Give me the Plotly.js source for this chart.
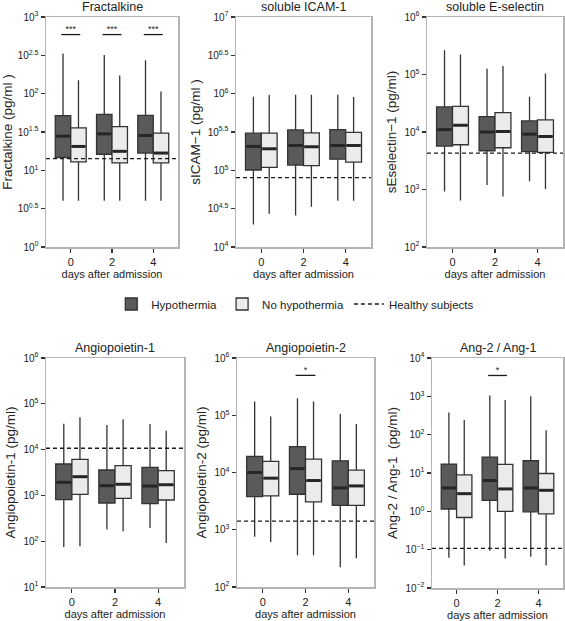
<!DOCTYPE html>
<html><head><meta charset="utf-8">
<script src="https://cdn.plot.ly/plotly-3.0.1.min.js"></script>
<style>html,body{margin:0;padding:0;background:#fff}</style>
</head><body><div id="chart" style="width:565px;height:621px"></div>
<script>
// ---------- data ----------
const days = ['0', '2', '4'];
const dayPos = [0, 1, 2];
const groupNames = ['Hypothermia', 'No hypothermia', 'Healthy subjects'];

// Fractalkine (pg/ml)
const fkHypoLow = [4.0, 4.0, 4.0];
const fkHypoQ1 = [14.7, 16.2, 16.8];
const fkHypoMed = [27.9, 29.9, 28.5];
const fkHypoQ3 = [51.8, 53.8, 52.2];
const fkHypoUp = [335, 319, 272];
const fkNoLow = [4.0, 4.0, 4.0];
const fkNoQ1 = [12.9, 12.5, 12.5];
const fkNoMed = [20.5, 17.7, 16.8];
const fkNoQ3 = [35.8, 37.2, 30.6];
const fkNoUp = [150, 172, 107];
const fkHealthy = 14.2;
const fkSig = ['***', '***', '***'];
const fkSigLevel = 590;

// soluble ICAM-1 (pg/ml)
const icHypoLow = [19700, 25800, 40000];
const icHypoQ1 = [101000, 117000, 140000];
const icHypoMed = [205000, 211000, 211000];
const icHypoQ3 = [305000, 337000, 340000];
const icHypoUp = [914000, 970000, 970000];
const icNoLow = [27100, 33400, 40000];
const icNoQ1 = [109000, 115000, 128000];
const icNoMed = [191000, 203000, 211000];
const icNoQ3 = [305000, 308000, 312000];
const icNoUp = [970000, 970000, 906000];
const icHealthy = 80300;
const icSig = ['', '', ''];
const icSigLevel = null;

// soluble E-selectin (pg/ml)
const esHypoLow = [920, 1200, 1390];
const esHypoQ1 = [5690, 4720, 4540];
const esHypoMed = [11000, 10000, 9170];
const esHypoQ3 = [27300, 18500, 15600];
const esHypoUp = [265000, 126000, 41200];
const esNoLow = [643, 753, 1020];
const esNoQ1 = [6000, 5320, 4420];
const esNoMed = [13100, 10200, 8360];
const esNoQ3 = [28000, 21800, 16200];
const esNoUp = [223000, 140000, 104000];
const esHealthy = 4300;
const esSig = ['', '', ''];
const esSigLevel = null;

// Angiopoietin-1 (pg/ml)
const a1HypoLow = [74.7, 179, 194];
const a1HypoQ1 = [807, 682, 661];
const a1HypoMed = [1930, 1630, 1600];
const a1HypoQ3 = [4850, 3590, 4100];
const a1HypoUp = [36800, 34400, 36200];
const a1NoLow = [77.2, 164, 91.4];
const a1NoQ1 = [1050, 862, 794];
const a1NoMed = [2560, 1750, 1710];
const a1NoQ3 = [6130, 4460, 3470];
const a1NoUp = [50700, 45800, 25900];
const a1Healthy = 10700;
const a1Sig = ['', '', ''];
const a1SigLevel = null;

// Angiopoietin-2 (pg/ml)
const a2HypoLow = [754, 360, 221];
const a2HypoQ1 = [3790, 4170, 2670];
const a2HypoMed = [10000, 11700, 5380];
const a2HypoQ3 = [19100, 28200, 16000];
const a2HypoUp = [174000, 199000, 105000];
const a2NoLow = [608, 360, 318];
const a2NoQ1 = [3900, 3060, 2670];
const a2NoMed = [7960, 7240, 5830];
const a2NoQ3 = [15600, 17100, 11000];
const a2NoUp = [94800, 174000, 70500];
const a2Healthy = 1420;
const a2Sig = ['', '*', ''];
const a2SigLevel = 497000;

// Ang-2 / Ang-1
const rtHypoLow = [0.0614, 0.094, 0.0653];
const rtHypoQ1 = [1.15, 1.93, 0.973];
const rtHypoMed = [4.07, 6.35, 4.07];
const rtHypoQ3 = [17.1, 26.1, 20.9];
const rtHypoUp = [381, 1045, 1003];
const rtNoLow = [0.0386, 0.059, 0.0386];
const rtNoQ1 = [0.69, 0.993, 0.863];
const rtNoMed = [2.89, 3.84, 3.54];
const rtNoQ3 = [8.95, 16.7, 9.7];
const rtNoUp = [240, 804, 131];
const rtHealthy = 0.108;
const rtSig = ['', '*', ''];
const rtSigLevel = 3500;

const panelTitles = ['Fractalkine', 'soluble ICAM-1', 'soluble E-selectin', 'Angiopoietin-1', 'Angiopoietin-2', 'Ang-2 / Ang-1'];
const yTitles = ['Fractalkine (pg/ml )', 'sICAM\u22121 (pg/ml )', 'sEselectin\u22121 (pg/ml)', 'Angiopoietin-1 (pg/ml)', 'Angiopoietin-2 (pg/ml)', 'Ang-2 / Ang-1  (pg/ml)'];
const yExpRanges = [[0, 3], [4, 7], [2, 6], [1, 6], [2, 6], [-2, 4]];
const yExpSteps = [0.5, 0.5, 1, 1, 1, 1];

// ---------- table built from the arrays ----------
const panels = [
  {hypo: [fkHypoLow, fkHypoQ1, fkHypoMed, fkHypoQ3, fkHypoUp], no: [fkNoLow, fkNoQ1, fkNoMed, fkNoQ3, fkNoUp], healthy: fkHealthy, sig: fkSig, sigLevel: fkSigLevel},
  {hypo: [icHypoLow, icHypoQ1, icHypoMed, icHypoQ3, icHypoUp], no: [icNoLow, icNoQ1, icNoMed, icNoQ3, icNoUp], healthy: icHealthy, sig: icSig, sigLevel: icSigLevel},
  {hypo: [esHypoLow, esHypoQ1, esHypoMed, esHypoQ3, esHypoUp], no: [esNoLow, esNoQ1, esNoMed, esNoQ3, esNoUp], healthy: esHealthy, sig: esSig, sigLevel: esSigLevel},
  {hypo: [a1HypoLow, a1HypoQ1, a1HypoMed, a1HypoQ3, a1HypoUp], no: [a1NoLow, a1NoQ1, a1NoMed, a1NoQ3, a1NoUp], healthy: a1Healthy, sig: a1Sig, sigLevel: a1SigLevel},
  {hypo: [a2HypoLow, a2HypoQ1, a2HypoMed, a2HypoQ3, a2HypoUp], no: [a2NoLow, a2NoQ1, a2NoMed, a2NoQ3, a2NoUp], healthy: a2Healthy, sig: a2Sig, sigLevel: a2SigLevel},
  {hypo: [rtHypoLow, rtHypoQ1, rtHypoMed, rtHypoQ3, rtHypoUp], no: [rtNoLow, rtNoQ1, rtNoMed, rtNoQ3, rtNoUp], healthy: rtHealthy, sig: rtSig, sigLevel: rtSigLevel}
];

// ---------- layout geometry (pixels) ----------
const W = 565, H = 621;
const panelPx = [
  [46, 178, 17, 247], [236, 371, 17, 247], [427, 563, 17, 247],
  [46, 184, 358, 587], [237, 374, 358, 587], [432, 563, 358, 588]
];
const xRange = [-0.6, 2.6];
const boxW = 0.375;        // width of one box in category units
const sigHalf = 0.23;
const darkFill = '#5a5a5a', lightFill = '#ebebeb', edge = '#333333', borderGray = '#b4b4b4';
const FONT = '"Liberation Sans", Arial, Helvetica, sans-serif';

const traces = [];
const layout = {
  width: W, height: H,
  margin: {l: 0, r: 0, t: 0, b: 0},
  paper_bgcolor: '#fff', plot_bgcolor: '#fff',
  font: {family: FONT, color: '#222'},
  boxmode: 'overlay',
  showlegend: true,
  legend: {orientation: 'h', x: 0.197, xanchor: 'left', y: (H - 304) / H, yanchor: 'middle',
           font: {size: 11.5, family: FONT, color: '#222'}, bgcolor: 'rgba(0,0,0,0)', traceorder: 'normal'},
  annotations: []
};

panels.forEach((p, k) => {
  const sfx = k === 0 ? '' : String(k + 1);
  const xa = 'x' + sfx, ya = 'y' + sfx;
  const [px0, px1, py0, py1] = panelPx[k];
  const [e0, e1] = yExpRanges[k];
  const tv = [], tt = [];
  for (let e = e0; e <= e1 + 1e-9; e += yExpSteps[k]) {
    const r = Math.round(e * 10) / 10;
    tv.push(Math.pow(10, r));
    tt.push('10<sup>' + (r < 0 ? '\u2212' + Math.abs(r) : r) + '</sup>');
  }
  layout['xaxis' + sfx] = {
    domain: [px0 / W, px1 / W], anchor: ya, range: xRange,
    tickvals: dayPos, ticktext: days, ticks: 'outside', ticklen: 4, tickwidth: 1.2, tickcolor: edge,
    showline: true, mirror: true, linecolor: borderGray, linewidth: 1.5,
    showgrid: false, zeroline: false, fixedrange: true,
    tickfont: {size: 11, family: FONT, color: '#222'},
    title: {text: 'days after admission', font: {size: 11, family: FONT, color: '#222'}, standoff: 1}
  };
  layout['yaxis' + sfx] = {
    domain: [(H - py1) / H, (H - py0) / H], anchor: xa, type: 'log', range: [e0, e1],
    tickvals: tv, ticktext: tt, ticks: 'outside', ticklen: 4, tickwidth: 1.2, tickcolor: edge,
    showline: true, mirror: true, linecolor: borderGray, linewidth: 1.5,
    showgrid: false, zeroline: false, fixedrange: true,
    tickfont: {size: 10, family: FONT, color: '#222'},
    title: {text: yTitles[k], font: {size: 13.5, family: FONT, color: '#222'}, standoff: 4}
  };
  layout.annotations.push({
    xref: 'paper', yref: 'paper', x: (px0 + px1) / 2 / W, y: (H - (py0 - 10)) / H,
    xanchor: 'center', yanchor: 'middle', showarrow: false,
    text: panelTitles[k], font: {size: 12.5, family: FONT, color: '#222'}
  });

  [[p.hypo, darkFill, groupNames[0], -1], [p.no, lightFill, groupNames[1], 1]].forEach(([s, fill, name, side]) => {
    const xs = dayPos.map(d => d + side * boxW / 2);
    traces.push({
      type: 'box', xaxis: xa, yaxis: ya, x: xs, width: boxW,
      lowerfence: s[0], q1: s[1], median: s[2], q3: s[3], upperfence: s[4],
      name: name, legendgroup: name, showlegend: k === 0,
      fillcolor: fill, line: {color: edge, width: 1.3}, whiskerwidth: 0,
      boxpoints: false, hoverinfo: 'skip'
    });
    // thick median bars (ggplot style)
    const mx = [], my = [];
    xs.forEach((c, i) => {
      mx.push(c - boxW / 2 + 0.02, c + boxW / 2 - 0.02, null); my.push(s[2][i], s[2][i], null);
    });
    traces.push({type: 'scatter', mode: 'lines', xaxis: xa, yaxis: ya, x: mx, y: my,
      line: {color: '#262626', width: 3}, showlegend: false, hoverinfo: 'skip'});
  });

  traces.push({
    type: 'scatter', mode: 'lines', xaxis: xa, yaxis: ya,
    x: xRange, y: [p.healthy, p.healthy], name: groupNames[2], legendgroup: 'healthy',
    showlegend: k === 0, line: {color: '#1a1a1a', width: 1.3, dash: '4px,3px'}, hoverinfo: 'skip'
  });

  if (p.sigLevel !== null) {
    const bx = [], by = [], tx = [], ty = [], tt2 = [];
    p.sig.forEach((s, i) => {
      if (!s) return;
      bx.push(dayPos[i] - sigHalf, dayPos[i] + sigHalf, null); by.push(p.sigLevel, p.sigLevel, null);
      tx.push(dayPos[i]); ty.push(p.sigLevel); tt2.push(s);
    });
    traces.push({type: 'scatter', mode: 'lines', xaxis: xa, yaxis: ya, x: bx, y: by,
      line: {color: '#1a1a1a', width: 1.3}, showlegend: false, hoverinfo: 'skip'});
    traces.push({type: 'scatter', mode: 'text', xaxis: xa, yaxis: ya, x: tx, y: ty, text: tt2,
      textposition: 'top center', textfont: {size: 9, family: FONT, color: '#1a1a1a'},
      showlegend: false, hoverinfo: 'skip'});
  }
});

Plotly.newPlot('chart', traces, layout, {displayModeBar: false, staticPlot: true});
</script>
</body></html>
